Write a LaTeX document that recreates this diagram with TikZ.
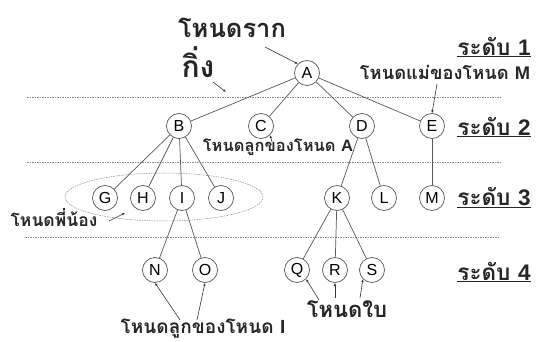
\documentclass[tikz,border=0pt]{standalone}
\usepackage{fontspec}
\setmainfont{Liberation Sans}
\newfontfamily\thai[Script=Thai]{Loma}
\usetikzlibrary{arrows.meta,shapes.geometric}
\begin{document}
\begin{tikzpicture}[x=1pt,y=-1pt,
  tn/.style={circle,draw=black!65,line width=0.7pt,minimum size=25pt,inner sep=0pt,font=\fontsize{16}{16}\selectfont},
  edge/.style={draw=black!65,line width=0.7pt},
  lvl/.style={dash pattern=on 1.5pt off 1pt,draw=black!45,line width=0.5pt},
  ar/.style={-{Latex[length=3pt,width=2.5pt]},draw=black!80,line width=0.6pt},
  lab/.style={inner sep=0pt,text=black!85},
  big/.style={lab,font=\thai\bfseries\fontsize{25.5}{25.5}\selectfont},
  mid/.style={lab,font=\thai\bfseries\fontsize{16.5}{16.5}\selectfont},
  lev/.style={lab,font=\thai\bfseries\fontsize{22.5}{22.5}\selectfont},
]
\fill[white] (0,0) rectangle (536,342);
\useasboundingbox (0,0) rectangle (536,342);
% level lines
\coordinate (l1a) at (27,97);  \coordinate (l1b) at (500,97);
\coordinate (l2a) at (27,162); \coordinate (l2b) at (500,162);
\coordinate (l3a) at (25,237); \coordinate (l3b) at (500,237);
\draw[lvl] (l1a) -- (l1b);
\draw[lvl] (l2a) -- (l2b);
\draw[lvl] (l3a) -- (l3b);
% sibling ellipse
\node[ellipse,draw=black!45,dash pattern=on 1.5pt off 1pt,line width=0.5pt,minimum width=198pt,minimum height=48pt] (sib) at (164,197) {};
% nodes
\node[tn] (A) at (307,73) {A};
\node[tn] (B) at (179,126) {B};
\node[tn] (C) at (261,126) {C};
\node[tn] (D) at (362,126) {D};
\node[tn] (E) at (432,126) {E};
\node[tn] (G) at (105,198) {G};
\node[tn] (H) at (143,198) {H};
\node[tn] (I) at (182,198) {I};
\node[tn] (J) at (221,198) {J};
\node[tn] (K) at (337,198) {K};
\node[tn] (L) at (384,198) {L};
\node[tn] (M) at (432,198) {M};
\node[tn] (N) at (155,270) {N};
\node[tn] (O) at (205,270) {O};
\node[tn] (Q) at (297,270) {Q};
\node[tn] (R) at (335,270) {R};
\node[tn] (S) at (372,270) {S};
% edges
\foreach \a/\b in {A/B,A/C,A/D,A/E,B/G,B/H,B/I,B/J,D/K,D/L,E/M,I/N,I/O,K/Q,K/R,K/S}
  \draw[edge] (\a) -- (\b);
% labels
\node[big] (root) at (232,28) {โหนดราก};
\node[big,font=\thai\bfseries\fontsize{30}{30}\selectfont] (branch) at (198,62) {กิ่ง};
\node[mid,font=\thai\bfseries\fontsize{18.3}{18.3}\selectfont] (parM) at (445,72) {โหนดแม่ของโหนด {\rmfamily M}};
\node[mid] (chA) at (278,147) {โหนดลูกของโหนด {\rmfamily A}};
\node[mid,font=\thai\bfseries\fontsize{17.5}{17.5}\selectfont] (sibl) at (54,218) {โหนดพี่น้อง};
\node[big,font=\thai\bfseries\fontsize{19}{19}\selectfont] (chI) at (203,329) {โหนดลูกของโหนด {\rmfamily I}};
\node[big,font=\thai\bfseries\fontsize{22}{22}\selectfont] (leaf) at (347,309) {โหนดใบ};
\node[lev] (lv1) at (494,47) {\underline{ระดับ {\rmfamily 1}}};
\node[lev] (lv2) at (494,127) {\underline{ระดับ {\rmfamily 2}}};
\node[lev] (lv3) at (494,198) {\underline{ระดับ {\rmfamily 3}}};
\node[lev] (lv4) at (494,272) {\underline{ระดับ {\rmfamily 4}}};
% arrows
\coordinate (r0) at (265,47);
\draw[ar] (r0) -- (A.north west);
\coordinate (b0) at (213,82); \coordinate (b1) at (226,92);
\draw[ar] (b0) -- (b1);
\coordinate (m0) at (437,84);
\draw[ar] (m0) -- (E.north);
\coordinate (c0) at (272,142);
\draw[ar] (c0) -- (C.south east);
\coordinate (s0) at (109,221); \coordinate (s1) at (125,213);
\draw[ar] (s0) -- (s1);
\coordinate (n0) at (180,320); \coordinate (o0) at (197,320);
\draw[ar] (n0) -- (N.south);
\draw[ar] (o0) -- (O.south);
\coordinate (q0) at (319,300); \coordinate (rr0) at (335,298); \coordinate (ss0) at (360,298);
\draw[ar] (q0) -- (Q.south east);
\draw[ar] (rr0) -- (R.south);
\draw[ar] (ss0) -- (S.south west);
\end{tikzpicture}
\end{document}
